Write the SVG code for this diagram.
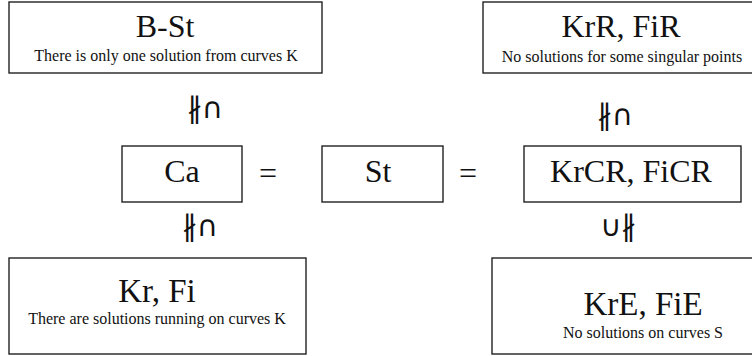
<svg xmlns="http://www.w3.org/2000/svg" width="752" height="356" viewBox="0 0 752 356">
<style>
.box{fill:#fff;stroke:#222;stroke-width:1.4}
text.t{font-family:'Liberation Serif','DejaVu Serif',serif;fill:#111;text-anchor:middle}
text.big{font-size:32px}
text.bg2{font-size:33px}
text.sub{font-size:16px}
text.sym{font-family:'DejaVu Sans',sans-serif;font-size:29px;fill:#111;text-anchor:middle}
</style>
<rect width="752" height="356" fill="#fff"/>
<g id="node-bst">
<rect class="box" x="9" y="2" width="313" height="71"/>
<text class="t big" x="165" y="37">B-St</text>
<text class="t sub" x="166" y="61">There is only one solution from curves K</text>
</g>
<g id="node-krr">
<rect class="box" x="483" y="2" width="276" height="71"/>
<text class="t big" x="621" y="37">KrR, FiR</text>
<text class="t sub" x="622" y="62">No solutions for some singular points</text>
</g>
<g id="node-ca">
<rect class="box" x="122" y="146" width="120" height="56"/>
<text class="t big" x="182" y="182">Ca</text>
</g>
<g id="node-st">
<rect class="box" x="322" y="146" width="121" height="56"/>
<text class="t big" x="378" y="182">St</text>
</g>
<g id="node-krcr">
<rect class="box" x="524" y="146" width="217" height="56"/>
<text class="t big" x="631" y="182">KrCR, FiCR</text>
</g>
<g id="node-kr">
<rect class="box" x="9" y="258" width="297" height="96"/>
<text class="t bg2" x="157" y="302">Kr, Fi</text>
<text class="t sub" x="157" y="324">There are solutions running on curves K</text>
</g>
<g id="node-kre">
<rect class="box" x="492" y="258" width="300" height="96"/>
<text class="t bg2" x="643" y="315">KrE, FiE</text>
<text class="t sub" x="643" y="338">No solutions on curves S</text>
</g>
<g id="connectors">
<text class="t big" x="268" y="184">=</text>
<text class="t big" x="468" y="184">=</text>
<text class="sym" x="205" y="118">∦∩</text>
<text class="sym" x="200" y="236">∦∩</text>
<text class="sym" x="615" y="125">∦∩</text>
<text class="sym" x="618" y="236">∪∦</text>
</g>
</svg>
